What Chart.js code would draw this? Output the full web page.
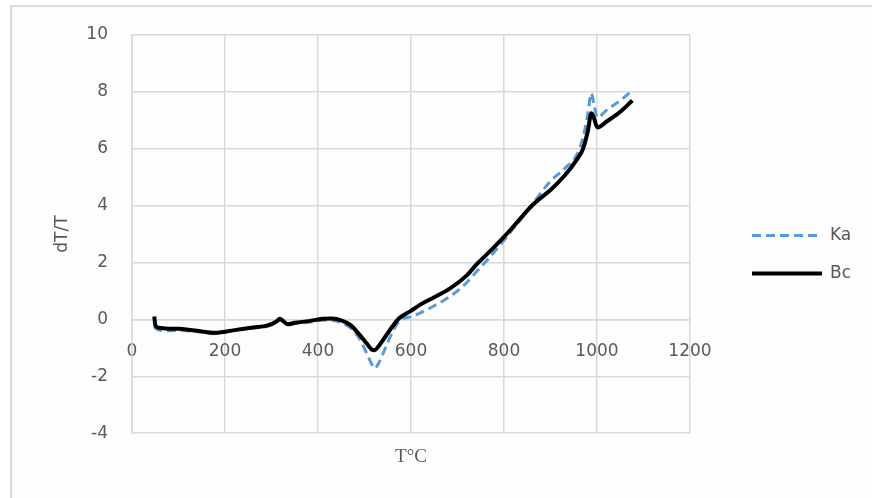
<!DOCTYPE html>
<html>
<head>
<meta charset="utf-8">
<script src="https://cdn.jsdelivr.net/npm/chart.js@4"></script>
<style>
  html, body { margin: 0; padding: 0; background: #ffffff; }
  #frame {
    position: absolute; left: 10px; top: 5px;
    width: 862px; height: 493px;
    border-top: 2px solid #dadada; border-left: 2px solid #dadada;
    background: #fdfdfd;
  }
</style>
</head>
<body>
<div id="frame"><canvas id="dtaChart"></canvas></div>
<script>
// Temperature (°C) sample points
const temps = [48, 50, 60, 80, 100, 130, 150, 175, 200, 230, 260, 290, 310, 318, 325, 335, 350, 380, 410, 430,
               450, 470, 490, 505, 515, 522, 530, 545, 560, 575, 600, 620, 650, 685, 720, 742, 770, 800, 830, 863,
               900, 930, 957, 970, 980, 988, 993, 1001, 1020, 1050, 1076];

// dT/T values
const kaValues = [-0.25, -0.3, -0.38, -0.4, -0.38, -0.42, -0.45, -0.5, -0.45, -0.37, -0.3, -0.25, -0.12, -0.03, -0.08, -0.18, -0.15, -0.1, -0.03, -0.03,
                  -0.12, -0.3, -0.7, -1.2, -1.55, -1.72, -1.55, -1.0, -0.45, -0.05, 0.1, 0.23, 0.48, 0.82, 1.3, 1.7, 2.2, 2.78, 3.4, 4.1,
                  4.86, 5.3, 5.8, 6.4, 7.2, 7.95, 7.6, 7.1, 7.35, 7.7, 8.05];
const bcValues = [0.1, -0.2, -0.3, -0.33, -0.33, -0.38, -0.42, -0.47, -0.43, -0.35, -0.28, -0.22, -0.08, 0.02, -0.05, -0.17, -0.12, -0.06, 0.02, 0.03,
                  -0.03, -0.2, -0.55, -0.85, -1.05, -1.08, -0.95, -0.6, -0.25, 0.05, 0.3, 0.52, 0.78, 1.1, 1.55, 1.95, 2.4, 2.9, 3.45, 4.05,
                  4.55, 5.05, 5.63, 6.0, 6.6, 7.25, 7.1, 6.75, 6.95, 7.3, 7.7];

const seriesNames = ['Ka', 'Bc'];
const xTickValues = [0, 200, 400, 600, 800, 1000, 1200];
const yTickValues = [-4, -2, 0, 2, 4, 6, 8, 10];

const toPoints = (vals) => temps.map((t, i) => ({ x: t, y: vals[i] }));

const textGray = '#595959';
const gridGray = '#d9d9d9';

// legend drawn to the right of the plot, like the original
const sideLegend = {
    id: 'sideLegend',
    afterDraw(chart) {
        const ctx = chart.ctx;
        const x0 = chart.chartArea.right + 62;
        const mid = chart.height / 2;
        chart.data.datasets.forEach((ds, i) => {
            const y = mid - 18 + i * 38;
            ctx.save();
            ctx.strokeStyle = ds.borderColor;
            ctx.lineWidth = ds.borderWidth;
            ctx.setLineDash(ds.borderDash || []);
            ctx.beginPath();
            ctx.moveTo(x0, y);
            ctx.lineTo(x0 + 70, y);
            ctx.stroke();
            ctx.setLineDash([]);
            ctx.fillStyle = textGray;
            ctx.font = '17px "DejaVu Sans"';
            ctx.textBaseline = 'middle';
            ctx.fillText(ds.label, x0 + 78, y);
            ctx.restore();
        });
    }
};

const ctx = document.getElementById('dtaChart').getContext('2d');
new Chart(ctx, {
    type: 'scatter',
    data: {
        datasets: [{
            label: seriesNames[0],
            data: toPoints(kaValues),
            showLine: true,
            borderColor: '#5b9bd5',
            borderWidth: 3,
            borderDash: [9, 5],
            pointRadius: 0,
            cubicInterpolationMode: 'monotone',
            order: 2
        }, {
            label: seriesNames[1],
            data: toPoints(bcValues),
            showLine: true,
            borderColor: '#000000',
            borderWidth: 4,
            pointRadius: 0,
            cubicInterpolationMode: 'monotone',
            order: 1
        }]
    },
    options: {
        responsive: true,
        maintainAspectRatio: false,
        animation: false,
        layout: { padding: { left: 40, right: 184, top: 28, bottom: 32 } },
        plugins: {
            legend: { display: false },
            tooltip: { enabled: false },
            title: {
                display: true,
                position: 'bottom',
                fullSize: false,
                text: 'T°C',
                color: textGray,
                font: { family: '"Liberation Serif"', size: 19, weight: 'normal' },
                padding: { top: 12, bottom: 0 }
            }
        },
        scales: {
            x: {
                type: 'linear',
                position: { y: 0 },
                min: xTickValues[0],
                max: xTickValues[xTickValues.length - 1],
                ticks: {
                    stepSize: xTickValues[1] - xTickValues[0],
                    color: textGray,
                    font: { family: '"DejaVu Sans"', size: 17 },
                    padding: 22,
                    maxRotation: 0,
                    callback: (v) => String(v)
                },
                grid: { color: gridGray, lineWidth: 1.5, drawTicks: false },
                border: { color: gridGray, width: 1.5 }
            },
            y: {
                min: yTickValues[0],
                max: yTickValues[yTickValues.length - 1],
                // fixed axis width; top spacing comes from layout padding
                afterFit: (scale) => { scale.width = 80; scale.paddingTop = 0; },
                ticks: {
                    stepSize: yTickValues[1] - yTickValues[0],
                    color: textGray,
                    font: { family: '"DejaVu Sans"', size: 17 },
                    padding: 24
                },
                grid: { color: gridGray, lineWidth: 1.5, drawTicks: false },
                border: { color: gridGray, width: 1.5 },
                title: {
                    display: true,
                    text: 'dT/T',
                    color: textGray,
                    font: { family: '"DejaVu Sans"', size: 17 },
                    padding: { top: 0, bottom: 14 }
                }
            }
        }
    },
    plugins: [sideLegend]
});
</script>
</body>
</html>
